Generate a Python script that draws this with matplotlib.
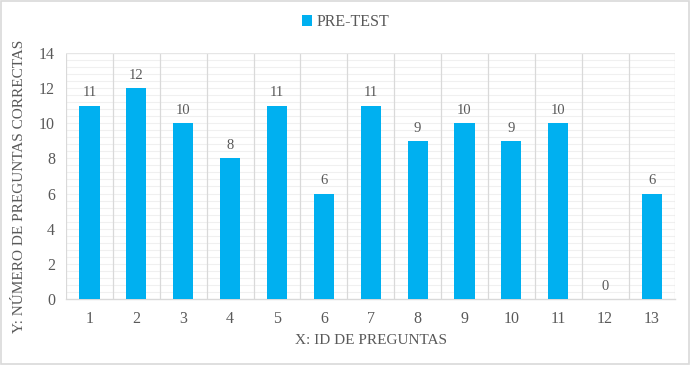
import matplotlib.pyplot as plt
import numpy as np
from matplotlib.patches import Rectangle

plt.rcParams['font.family'] = ['Liberation Serif', 'DejaVu Serif']

preguntas = ['1', '2', '3', '4', '5', '6', '7', '8', '9', '10', '11', '12', '13']
pre_test = [11, 12, 10, 8, 11, 6, 11, 9, 10, 9, 10, 0, 6]

TEXT = '#595959'
BAR = '#00B0F0'

fig = plt.figure(figsize=(6.91, 3.65), dpi=100, facecolor='white')
ax = fig.add_axes([0.0955, 0.181, 0.882, 0.674])

x = np.arange(len(preguntas))
bars = ax.bar(x, pre_test, width=0.43, color=BAR, zorder=3, label='PRE-TEST')

for xi, v in zip(x, pre_test):
    ax.text(xi, v + 0.35, str(v), ha='center', va='bottom', fontsize=10.5, color=TEXT)

ax.set_xlim(-0.5, len(preguntas) - 0.5)
ax.set_ylim(0, 14)
ax.set_yticks(np.arange(0, 15, 2))
ax.set_xticks(x)
ax.set_xticklabels(preguntas)

# faint minor horizontal grid
for yv in np.arange(0.4, 14.01, 0.4):
    ax.axhline(yv, color='#F0F0F0', linewidth=0.8, zorder=1)
# vertical category separators
for xv in np.arange(-0.5, len(preguntas), 1.0):
    ax.axvline(xv, color='#D9D9D9', linewidth=0.9, zorder=2)
ax.axhline(14, color='#E6E6E6', linewidth=0.9, zorder=2)

for s in ['top', 'right', 'left']:
    ax.spines[s].set_visible(False)
ax.spines['bottom'].set_color('#D9D9D9')
ax.spines['bottom'].set_linewidth(1.0)
ax.tick_params(axis='both', length=0, colors=TEXT, labelsize=11.5)
ax.tick_params(axis='x', pad=9)
ax.tick_params(axis='y', pad=8)

ax.set_xlabel('X: ID DE PREGUNTAS', fontsize=11, color=TEXT, labelpad=5)
fig.text(0.028, 0.49, 'Y: NÚMERO DE PREGUNTAS CORRECTAS', rotation=90,
         ha='center', va='center', fontsize=11, color=TEXT)

leg = fig.legend(handles=[bars], loc='center', bbox_to_anchor=(0.5, 0.94),
                 frameon=False, fontsize=11.5, handlelength=0.6, handleheight=0.7,
                 handletextpad=0.3)
for t in leg.get_texts():
    t.set_color(TEXT)

fig.patches.append(Rectangle((0.002, 0.003), 0.995, 0.993, transform=fig.transFigure,
                             fill=False, edgecolor='#D9D9D9', linewidth=1.2))

fig.savefig('out.png', dpi=100)
